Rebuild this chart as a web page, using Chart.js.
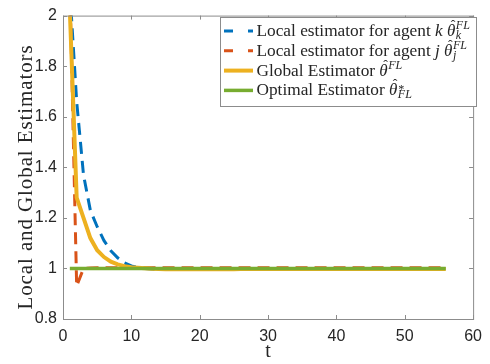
<!DOCTYPE html>
<html>
<head>
<meta charset="utf-8">
<script src="https://cdn.jsdelivr.net/npm/chart.js@4"></script>
<style>
  html, body { margin: 0; padding: 0; background: #fff; }
</style>
</head>
<body>
<canvas id="chart" width="490" height="364"></canvas>
<script>
// time steps
const t = [1, 2, 3, 4, 5, 6, 7, 8, 9, 10, 11, 12, 13, 14, 15, 16, 17, 18, 19, 20,
  21, 22, 23, 24, 25, 26, 27, 28, 29, 30, 31, 32, 33, 34, 35, 36, 37, 38, 39, 40,
  41, 42, 43, 44, 45, 46, 47, 48, 49, 50, 51, 52, 53, 54, 55, 56];

// local estimator, agent k
const localK = [2.10, 1.66, 1.37, 1.23, 1.165, 1.11, 1.07, 1.042, 1.022, 1.01,
  1.004, 1.0, 0.998, 0.996, 0.996, 0.996, 0.996, 0.996, 0.996, 0.996,
  0.996, 0.996, 0.996, 0.996, 0.996, 0.996, 0.996, 0.996, 0.996, 0.996,
  0.996, 0.996, 0.996, 0.996, 0.996, 0.996, 0.996, 0.996, 0.996, 0.996,
  0.996, 0.996, 0.996, 0.996, 0.996, 0.996, 0.996, 0.996, 0.996, 0.996,
  0.996, 0.996, 0.996, 0.996, 0.996, 0.996];

// local estimator, agent j
const localJ = [2.12, 0.93, 1.0, 1.002, 1.003, 1.003, 1.003, 1.003, 1.003, 1.003,
  1.003, 1.003, 1.003, 1.003, 1.003, 1.003, 1.003, 1.003, 1.003, 1.003,
  1.003, 1.003, 1.003, 1.003, 1.003, 1.003, 1.003, 1.003, 1.003, 1.003,
  1.003, 1.003, 1.003, 1.003, 1.003, 1.003, 1.003, 1.003, 1.003, 1.003,
  1.003, 1.003, 1.003, 1.003, 1.003, 1.003, 1.003, 1.003, 1.003, 1.003,
  1.003, 1.003, 1.003, 1.003, 1.003, 1.003];

// global estimator
const globalEst = [2.02, 1.28, 1.20, 1.12, 1.072, 1.045, 1.027, 1.016, 1.009, 1.005,
  1.003, 1.001, 0.999, 0.998, 0.997, 0.997, 0.997, 0.997, 0.997, 0.997,
  0.997, 0.997, 0.997, 0.997, 0.997, 0.998, 0.998, 0.998, 0.998, 0.998,
  0.998, 0.998, 0.998, 0.998, 0.998, 0.998, 0.998, 0.998, 0.998, 0.998,
  0.998, 0.998, 0.998, 0.998, 0.998, 0.998, 0.998, 0.998, 0.998, 0.998,
  0.998, 0.998, 0.998, 0.998, 0.998, 0.998];

// optimal estimator
const optimalEst = [1.0, 1.0, 1.0, 1.0, 1.0, 1.0, 1.0, 1.0, 1.0, 1.0,
  1.0, 1.0, 1.0, 1.0, 1.0, 1.0, 1.0, 1.0, 1.0, 1.0,
  1.0, 1.0, 1.0, 1.0, 1.0, 1.0, 1.0, 1.0, 1.0, 1.0,
  1.0, 1.0, 1.0, 1.0, 1.0, 1.0, 1.0, 1.0, 1.0, 1.0,
  1.0, 1.0, 1.0, 1.0, 1.0, 1.0, 1.0, 1.0, 1.0, 1.0,
  1.0, 1.0, 1.0, 1.0, 1.0, 1.0];

const xTickLabels = ["0", "10", "20", "30", "40", "50", "60"];
const yTickLabels = ["0.8", "1", "1.2", "1.4", "1.6", "1.8", "2"];
const xTitle = "t";
const yTitle = "Local and Global Estimators";

// legend text, split in runs: r = roman, i = italic, hat = θ with a hat, sup/sub = scripts
const legendRuns = [
  [["Local estimator for agent ", "r"], ["k", "i"], [" ", "r"], ["θ", "hat"], ["FL", "sup"], ["k", "sub"]],
  [["Local estimator for agent ", "r"], ["j", "i"], [" ", "r"], ["θ", "hat"], ["FL", "sup"], ["j", "sub"]],
  [["Global Estimator ", "r"], ["θ", "hat"], ["FL", "sup"]],
  [["Optimal Estimator ", "r"], ["θ", "hat"], ["*", "star"], ["FL", "sub"]]
];

const BLUE = "#0072BD", RED = "#D95319", YELLOW = "#EDB120", GREEN = "#77AC30";
const AXIS = "#8c8c8c", TXT = "#262626";

function pts(vals) {
  return t.map((x, i) => ({ x: x, y: vals[i] }));
}

const datasets = [
  { data: pts(localK), borderColor: BLUE, borderWidth: 3, borderDash: [12, 7], order: 4 },
  { data: pts(localJ), borderColor: RED, borderWidth: 3, borderDash: [12, 7], order: 3 },
  { data: pts(globalEst), borderColor: YELLOW, borderWidth: 4, order: 2 },
  { data: pts(optimalEst), borderColor: GREEN, borderWidth: 3.5, order: 1 }
];

const SERIF = '"Liberation Serif", serif';

function drawLegend(ctx) {
  const box = { x: 220.5, y: 17.5, w: 256, h: 89 };
  ctx.fillStyle = "#fff";
  ctx.fillRect(box.x, box.y, box.w, box.h);
  ctx.strokeStyle = AXIS;
  ctx.lineWidth = 1;
  ctx.strokeRect(box.x, box.y, box.w, box.h);

  ctx.textAlign = "left";
  ctx.textBaseline = "alphabetic";
  datasets.forEach((ds, i) => {
    const cy = 31 + i * 19.8;
    const base = cy + 5;
    // sample line
    ctx.save();
    ctx.strokeStyle = ds.borderColor;
    ctx.lineWidth = ds.borderWidth;
    ctx.setLineDash(ds.borderDash ? [9, 15] : []);
    ctx.beginPath();
    ctx.moveTo(224, cy);
    ctx.lineTo(253, cy);
    ctx.stroke();
    ctx.restore();

    // text runs
    ctx.fillStyle = TXT;
    let x = 256.5, scriptX = null, scriptW = 0;
    legendRuns[i].forEach(([txt, kind]) => {
      if (kind === "r" || kind === "i") {
        ctx.font = (kind === "i" ? "italic " : "") + "17.3px " + SERIF;
        ctx.fillText(txt, x, base);
        x += ctx.measureText(txt).width;
      } else if (kind === "hat") {
        ctx.font = "italic 17px " + SERIF;
        const w = ctx.measureText(txt).width;
        ctx.fillText(txt, x, base);
        ctx.font = "14px " + SERIF;
        ctx.textAlign = "center";
        ctx.fillText("ˆ", x + w / 2 + 2, base - 6);
        ctx.textAlign = "left";
        x += w + 0.5;
        scriptX = x; scriptW = 0;
      } else {
        ctx.font = "italic 12px " + SERIF;
        const dy = kind === "sup" ? -7 : kind === "sub" ? 3 : -2;
        ctx.fillText(txt, scriptX, base + dy);
        scriptW = Math.max(scriptW, ctx.measureText(txt).width);
        x = scriptX + scriptW;
      }
    });
  });
}

// box + inward ticks like matlab, y label, legend
const frame = {
  id: "frame",
  afterDraw(chart) {
    const { ctx, chartArea: a, scales } = chart;
    ctx.save();
    ctx.strokeStyle = AXIS;
    ctx.lineWidth = 1;
    ctx.strokeRect(a.left + 0.5, a.top + 0.5, a.right - a.left, a.bottom - a.top);
    const tl = 4;
    ctx.beginPath();
    scales.x.ticks.forEach(tk => {
      const px = Math.round(scales.x.getPixelForValue(tk.value)) + 0.5;
      ctx.moveTo(px, a.bottom); ctx.lineTo(px, a.bottom - tl);
      ctx.moveTo(px, a.top); ctx.lineTo(px, a.top + tl);
    });
    scales.y.ticks.forEach(tk => {
      const py = Math.round(scales.y.getPixelForValue(tk.value)) + 0.5;
      ctx.moveTo(a.left, py); ctx.lineTo(a.left + tl, py);
      ctx.moveTo(a.right, py); ctx.lineTo(a.right - tl, py);
    });
    ctx.stroke();

    ctx.save();
    ctx.fillStyle = TXT;
    ctx.font = "21px " + SERIF;
    ctx.letterSpacing = "0.9px";
    ctx.textAlign = "center";
    ctx.textBaseline = "middle";
    ctx.translate(26, 177);
    ctx.rotate(-Math.PI / 2);
    ctx.fillText(yTitle, 0, 0);
    ctx.restore();

    drawLegend(ctx);
    ctx.restore();
  }
};

const tickFont = { family: "Liberation Sans", size: 16 };

new Chart(document.getElementById("chart"), {
  type: "line",
  data: { datasets: datasets },
  options: {
    responsive: false,
    animation: false,
    devicePixelRatio: 1,
    layout: { padding: { top: 10, right: 9, left: 0, bottom: 0 } },
    plugins: { legend: { display: false }, tooltip: { enabled: false } },
    elements: { point: { radius: 0 }, line: { tension: 0, fill: false } },
    scales: {
      x: {
        type: "linear", min: 0, max: 60,
        ticks: { stepSize: 10, callback: (v, i) => xTickLabels[i], font: tickFont, color: TXT, padding: 8, maxRotation: 0 },
        grid: { display: false, drawTicks: false },
        border: { display: false },
        title: { display: true, text: xTitle, font: { family: "Liberation Serif", size: 20 }, color: TXT, padding: { top: 2, bottom: 0 } },
        afterFit(s) { s.height = 45; }
      },
      y: {
        type: "linear", min: 0.8, max: 2,
        ticks: { stepSize: 0.2, callback: (v, i) => yTickLabels[i], font: tickFont, color: TXT, padding: 6 },
        grid: { display: false, drawTicks: false },
        border: { display: false },
        afterFit(s) { s.width = 63; }
      }
    }
  },
  plugins: [frame]
});
</script>
</body>
</html>
